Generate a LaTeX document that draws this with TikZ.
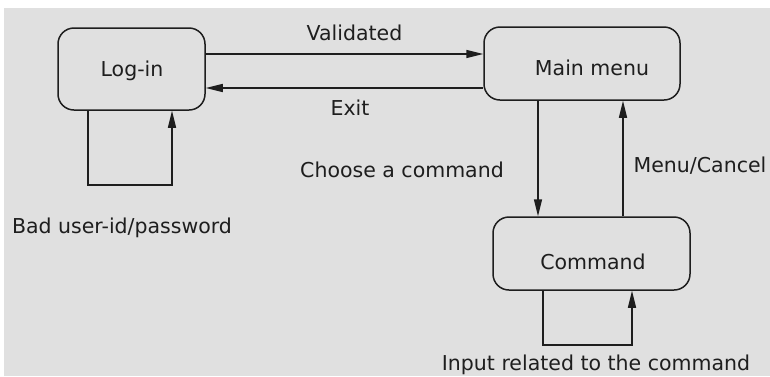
\documentclass[tikz,border=0pt]{standalone}
\usepackage{fontspec}
\setmainfont{DejaVu Sans}
\usepackage{xcolor}
\usetikzlibrary{arrows.meta, calc, positioning}

\definecolor{bgGray}{HTML}{E0E0E0}
\definecolor{inkGray}{HTML}{1E1E1E}

\tikzset{
    state/.style={draw=inkGray, line width=1.5pt, rounded corners=16pt, inner sep=0pt},
    trans/.style={draw=inkGray, line width=1.5pt, -{Triangle[length=17pt, width=8pt]}},
    lbl/.style={anchor=base, inner sep=0pt, text=inkGray, font=\fontsize{20.5}{23}\selectfont}
}

\begin{document}
\begin{tikzpicture}[x=1pt, y=-1pt]
    % قاب و زمینه
    \useasboundingbox (0,0) rectangle (770,376);
    \fill[bgGray] (4,8) rectangle (770,376);

    % حالت‌ها
    \node[state, minimum width=147pt, minimum height=82pt] (login) at (131.5,69) {};
    \node[state, minimum width=196pt, minimum height=73pt] (main) at (582,63.5) {};
    \node[state, minimum width=197pt, minimum height=73pt] (cmd) at (591.5,253.5) {};
    \node[lbl] at (132,76) {Log-in};
    \node[lbl] at (592,75) {Main menu};
    \node[lbl] at (593,269) {Command};

    % گذارها
    \draw[trans] (login.east |- 0,54) -- (main.west |- 0,54);
    \draw[trans] (main.west |- 0,88) -- (login.east |- 0,88);
    \draw[trans] (main.south -| 538,0) -- (cmd.north -| 538,0);
    \draw[trans] (cmd.north -| 623,0) -- (main.south -| 623,0);

    % حلقه‌ها
    \coordinate (la) at (88,185);
    \coordinate (lb) at (172,185);
    \draw[trans] (login.south -| la) -- (la) -- (lb) -- (login.south -| lb);
    \coordinate (ca) at (543,345);
    \coordinate (cb) at (632,345);
    \draw[trans] (cmd.south -| ca) -- (ca) -- (cb) -- (cmd.south -| cb);

    % برچسب‌ها
    \node[lbl] at (354.5,40) {Validated};
    \node[lbl] at (350,115) {Exit};
    \node[lbl] at (402,177) {Choose a command};
    \node[lbl] at (700,172) {Menu/Cancel};
    \node[lbl] at (122,233) {Bad user-id/password};
    \node[lbl] at (596,370) {Input related to the command};
\end{tikzpicture}
\end{document}
